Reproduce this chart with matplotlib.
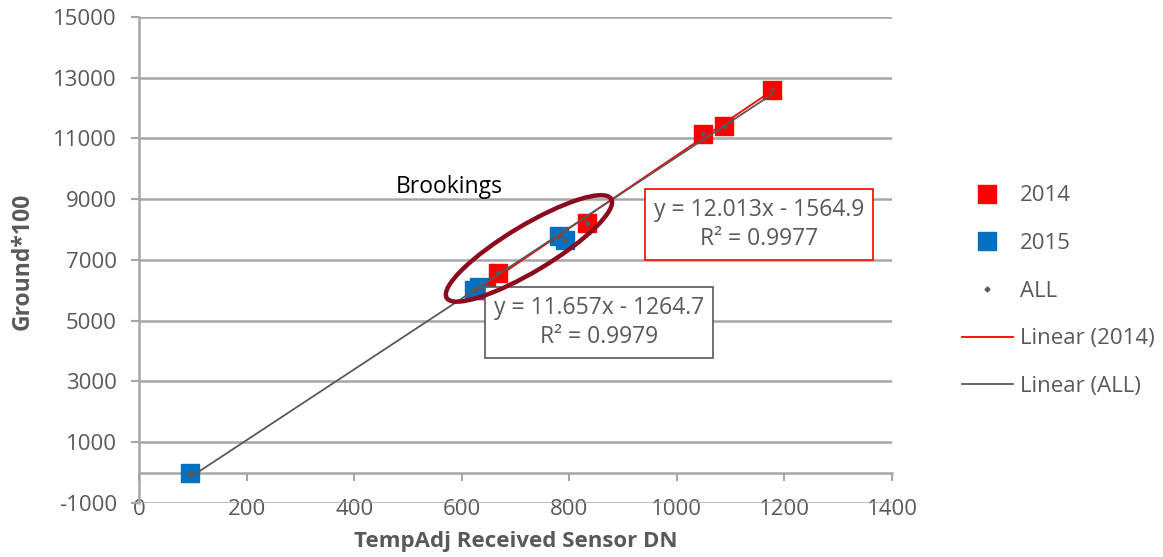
import numpy as np
import matplotlib.pyplot as plt
from matplotlib.patches import Ellipse
from matplotlib.transforms import ScaledTranslation

plt.rcParams['font.family'] = ['Open Sans', 'DejaVu Sans']
plt.rcParams['axes.unicode_minus'] = False

# Sensor DN vs ground reflectance*100
dn_2014 = [645, 667, 832, 1049, 1088, 1177]
gr_2014 = [6000, 6560, 8220, 11150, 11420, 12610]
dn_2015 = [95, 622, 632, 780, 792]
gr_2015 = [0, 6000, 6100, 7800, 7650]

fit_2014 = (12.013, -1564.9, 0.9977)
fit_all = (11.657, -1264.7, 0.9979)

text_c = '#595959'
grid_c = '#a6a6a6'

fig = plt.figure(figsize=(11.63, 5.57), dpi=100)
ax = fig.add_axes([0.1195, 0.097, 0.6475, 0.8725])

ax.plot(dn_2014, gr_2014, 's', color='#ff0000', ms=12.5, label='2014', zorder=3)
ax.plot(dn_2015, gr_2015, 's', color='#0070c0', ms=12.5, label='2015', zorder=3)
dn_all = dn_2014 + dn_2015
gr_all = gr_2014 + gr_2015
ax.plot(dn_all, gr_all, 'D', color=text_c, ms=2.5, ls='none', label='ALL', zorder=4)

xs = np.array([min(dn_2014), max(dn_2014)])
ax.plot(xs, fit_2014[0] * xs + fit_2014[1], color='#ff0000', lw=1.3, label='Linear (2014)', zorder=5)
xa = np.array([min(dn_all), max(dn_all)])
ax.plot(xa, fit_all[0] * xa + fit_all[1], color=text_c, lw=1.3, label='Linear (ALL)', zorder=5)

ax.set_xlim(0, 1400)
ax.set_ylim(-1000, 15000)
ax.set_xticks(np.arange(0, 1401, 200))
ax.set_yticks(np.arange(-1000, 15001, 2000))
ax.yaxis.grid(True, color=grid_c, lw=1.8)
ax.set_axisbelow(True)

for s in ['top', 'right']:
    ax.spines[s].set_visible(False)
ax.spines['left'].set_color(grid_c)
ax.spines['left'].set_linewidth(1.8)
ax.spines['bottom'].set_position(('data', 0))
ax.spines['bottom'].set_color(grid_c)
ax.spines['bottom'].set_linewidth(1.8)
ax.tick_params(axis='x', length=6, width=1.5, color=grid_c, pad=13,
               labelsize=16, labelcolor=text_c)
ax.tick_params(axis='y', length=6, width=1.5, color=grid_c, pad=10,
               labelsize=16, labelcolor=text_c)

ax.set_xlabel('TempAdj Received Sensor DN', fontsize=16, fontweight='bold', color=text_c)
ax.xaxis.set_label_coords(0.5, -0.058)
ax.set_ylabel('Ground*100', fontsize=16.5, fontweight='bold', color=text_c)
ax.yaxis.set_label_coords(-0.138, 0.498)

# trendline equations
ax.text(1153, 8165, 'y = %.3fx - %.1f\nR² = %.4f' % (abs(fit_2014[0]), -fit_2014[1], fit_2014[2]),
        ha='center', va='center', fontsize=16.5, color=text_c, linespacing=1.3,
        bbox=dict(boxstyle='square,pad=0.4', fc='white', ec='#ff0000', lw=1.2), zorder=6)
ax.text(855, 4940, 'y = %.3fx - %.1f\nR² = %.4f' % (fit_all[0], -fit_all[1], fit_all[2]),
        ha='center', va='center', fontsize=16.5, color=text_c, linespacing=1.3,
        bbox=dict(boxstyle='square,pad=0.4', fc='white', ec=text_c, lw=1.2), zorder=6)

ax.text(576, 9400, 'Brookings', ha='center', va='center', fontsize=16.5, color='black', zorder=6)

# highlight around the Brookings cluster
ell = Ellipse((0, 0), 1.92, 0.46, angle=31, fill=False, ec='#8b0a1e', lw=3.2,
              transform=fig.dpi_scale_trans + ScaledTranslation(725, 7380, ax.transData),
              zorder=7)
ax.add_patch(ell)

leg = fig.legend(*ax.get_legend_handles_labels(), loc='upper left',
                 bbox_to_anchor=(0.827, 0.667), frameon=False, borderpad=0,
                 borderaxespad=0, fontsize=16, labelspacing=1.2,
                 handlelength=2.3, handletextpad=0.3)
for t in leg.get_texts():
    t.set_color(text_c)

fig.savefig('out.png', dpi=100)
